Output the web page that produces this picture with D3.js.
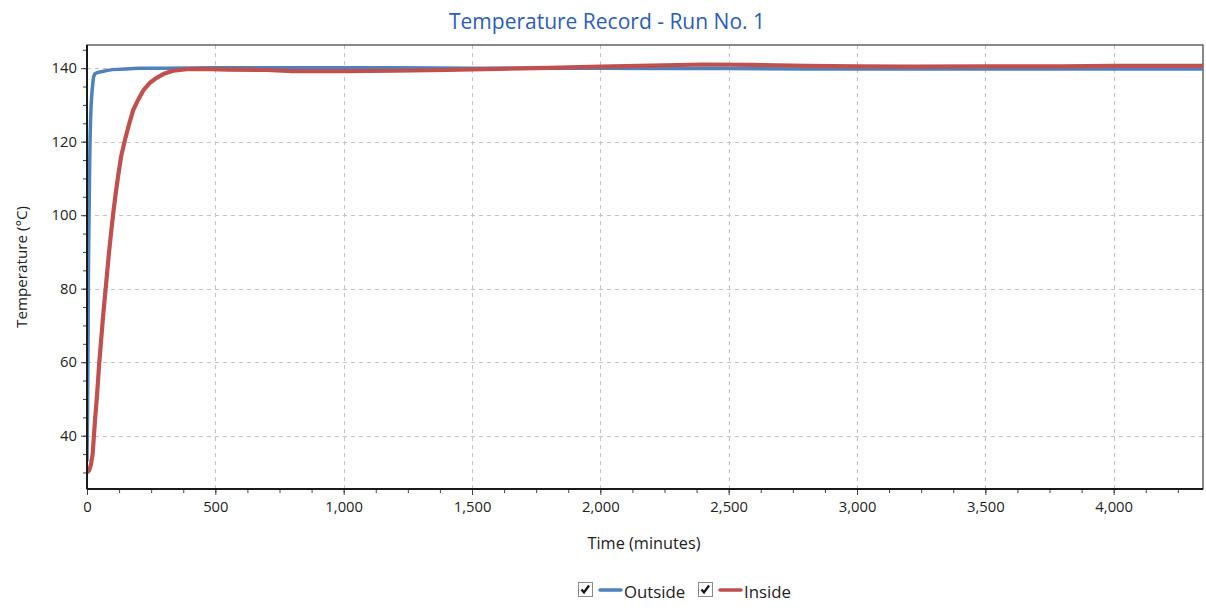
<!DOCTYPE html>
<html>
<head>
<meta charset="utf-8">
<script src="https://cdn.jsdelivr.net/npm/d3@7/dist/d3.min.js"></script>
<style>
  html, body { margin: 0; padding: 0; background: #fff; }
  svg { display: block; font-family: "Open Sans", "Noto Sans", sans-serif; }
</style>
</head>
<body>
<svg id="chart" width="1206" height="608"></svg>
<script>
// Temperature logs (minutes, °C)
const outsideTime  = [0, 2, 4, 6, 8, 10, 12, 14, 16, 20, 25, 30, 40, 60, 80, 100, 150, 200, 300, 500, 800, 1000, 1200, 1500, 1800, 2000, 2200, 2500, 2800, 3000, 3300, 3600, 3900, 4200, 4350];
const outsideTemp  = [33, 45, 65, 88, 100, 112, 121, 126, 130, 134, 137.5, 138.4, 138.8, 139.1, 139.4, 139.6, 139.8, 140, 140, 140.1, 140.1, 140.1, 140.1, 140, 140, 140, 139.9, 139.9, 139.8, 139.8, 139.8, 139.8, 139.8, 139.8, 139.8];

const insideTime   = [0, 8, 15, 22, 27, 32, 38, 43, 48, 55, 62, 70, 78, 86, 95, 103, 112, 122, 133, 148, 165, 180, 200, 220, 245, 270, 300, 336, 390, 450, 550, 700, 800, 1000, 1200, 1400, 1600, 1800, 2000, 2200, 2400, 2600, 2800, 3000, 3200, 3500, 3800, 4000, 4200, 4350];
const insideTemp   = [30, 30.5, 32, 35, 40, 45, 50, 55, 60, 66, 72, 78, 84, 90, 96, 101, 106, 111, 116, 120.5, 125, 128.6, 131.5, 134, 136, 137.3, 138.5, 139.3, 139.7, 139.8, 139.6, 139.5, 139.2, 139.2, 139.3, 139.5, 139.8, 140.1, 140.4, 140.7, 141, 140.9, 140.6, 140.5, 140.4, 140.5, 140.5, 140.6, 140.6, 140.6];

const xTickValues  = [0, 500, 1000, 1500, 2000, 2500, 3000, 3500, 4000];
const yTickValues  = [40, 60, 80, 100, 120, 140];

const series = [
  { name: "Outside", color: "#4f81bd", width: 3.5, time: outsideTime, temp: outsideTemp },
  { name: "Inside",  color: "#c0504d", width: 4.2, time: insideTime,  temp: insideTemp }
];

const svg = d3.select("#chart");
const plotLeft = 87, plotRight = 1203, plotTop = 45, plotBottom = 489;

const x = d3.scaleLinear().domain([0, 4348]).range([plotLeft, plotRight]);
const y = d3.scaleLinear().domain([25.5, 146.3]).range([plotBottom, plotTop]);

// Title
svg.append("text")
  .attr("x", 607).attr("y", 29)
  .attr("text-anchor", "middle")
  .attr("font-size", 21)
  .attr("fill", "#2b5cb8")
  .text("Temperature Record - Run No. 1");

// Dashed grid at the major ticks
const grid = svg.append("g").attr("stroke", "#c4c4c4").attr("stroke-width", 1).attr("stroke-dasharray", "4,4");
grid.selectAll("line.vx").data(xTickValues.filter(d => d > 0)).join("line")
  .attr("x1", d => Math.round(x(d)) + 0.5).attr("x2", d => Math.round(x(d)) + 0.5)
  .attr("y1", plotTop).attr("y2", plotBottom);
grid.selectAll("line.hy").data(yTickValues).join("line")
  .attr("y1", d => Math.round(y(d)) + 0.5).attr("y2", d => Math.round(y(d)) + 0.5)
  .attr("x1", plotLeft).attr("x2", plotRight);

// Plot frame
svg.append("rect")
  .attr("x", plotLeft).attr("y", plotTop)
  .attr("width", plotRight - plotLeft).attr("height", plotBottom - plotTop)
  .attr("fill", "none").attr("stroke", "#3a3a3a").attr("stroke-width", 1.2);

// Series lines
svg.append("clipPath").attr("id", "plot-clip")
  .append("rect").attr("x", plotLeft).attr("y", plotTop)
  .attr("width", plotRight - plotLeft).attr("height", plotBottom - plotTop);

const line = d3.line().x(d => x(d[0])).y(d => y(d[1]));
const plot = svg.append("g").attr("clip-path", "url(#plot-clip)");
series.forEach(s => {
  plot.append("path")
    .datum(s.time.map((t, i) => [t, s.temp[i]]))
    .attr("d", line)
    .attr("fill", "none")
    .attr("stroke", s.color)
    .attr("stroke-width", s.width)
    .attr("stroke-linejoin", "miter");
});

// Axes
const xAxis = d3.axisBottom(x).tickValues(xTickValues).tickFormat(d3.format(",")).tickSize(6).tickPadding(6);
const xMinor = d3.axisBottom(x).tickValues(d3.range(0, 4348, 125)).tickFormat("").tickSize(4);
const yAxis = d3.axisLeft(y).tickValues(yTickValues).tickSize(6).tickPadding(4);
const yMinor = d3.axisLeft(y).tickValues(d3.range(30, 146.3, 5)).tickFormat("").tickSize(4);

function styleAxis(g) {
  g.select(".domain").remove();
  g.selectAll("line").attr("stroke", "#444");
  g.selectAll("text").attr("font-size", 14.8).attr("fill", "#222").attr("font-family", "'Open Sans', sans-serif");
}
svg.append("g").attr("transform", `translate(0,${plotBottom})`).call(xMinor).call(styleAxis);
svg.append("g").attr("transform", `translate(0,${plotBottom})`).call(xAxis).call(styleAxis);
svg.append("g").attr("transform", `translate(${plotLeft},0)`).call(yMinor).call(styleAxis);
svg.append("g").attr("transform", `translate(${plotLeft},0)`).call(yAxis).call(styleAxis);

// Axis baselines
svg.append("line").attr("x1", plotLeft).attr("x2", plotRight).attr("y1", plotBottom).attr("y2", plotBottom)
  .attr("stroke", "#1a1a1a").attr("stroke-width", 2);
svg.append("line").attr("x1", plotLeft).attr("x2", plotLeft).attr("y1", plotTop).attr("y2", plotBottom)
  .attr("stroke", "#1a1a1a").attr("stroke-width", 2);

// Axis titles
svg.append("text")
  .attr("x", 644).attr("y", 549)
  .attr("text-anchor", "middle")
  .attr("font-size", 16.3).attr("fill", "#222")
  .text("Time (minutes)");
svg.append("text")
  .attr("transform", `translate(27,${(plotTop + plotBottom) / 2}) rotate(-90)`)
  .attr("text-anchor", "middle")
  .attr("font-size", 15.2).attr("fill", "#222")
  .text("Temperature (°C)");

// Legend with check boxes
const legendX = [578, 698];
const legend = svg.append("g");
series.forEach((s, i) => {
  const g = legend.append("g").attr("transform", `translate(${legendX[i]},582)`);
  g.append("rect").attr("x", 0.5).attr("y", 0.5).attr("width", 14).attr("height", 14)
    .attr("fill", "#fff").attr("stroke", "#8a8a8a").attr("stroke-width", 1);
  g.append("path").attr("d", "M3.5,7.5 L6,10.5 L11,3.5")
    .attr("fill", "none").attr("stroke", "#111").attr("stroke-width", 2.2);
  g.append("line").attr("x1", 22).attr("x2", 43).attr("y1", 8).attr("y2", 8)
    .attr("stroke", s.color).attr("stroke-width", 3.5).attr("stroke-linecap", "round");
  g.append("text").attr("x", 46).attr("y", 16)
    .attr("font-size", 16.8).attr("fill", "#222")
    .text(s.name);
});
</script>
</body>
</html>
